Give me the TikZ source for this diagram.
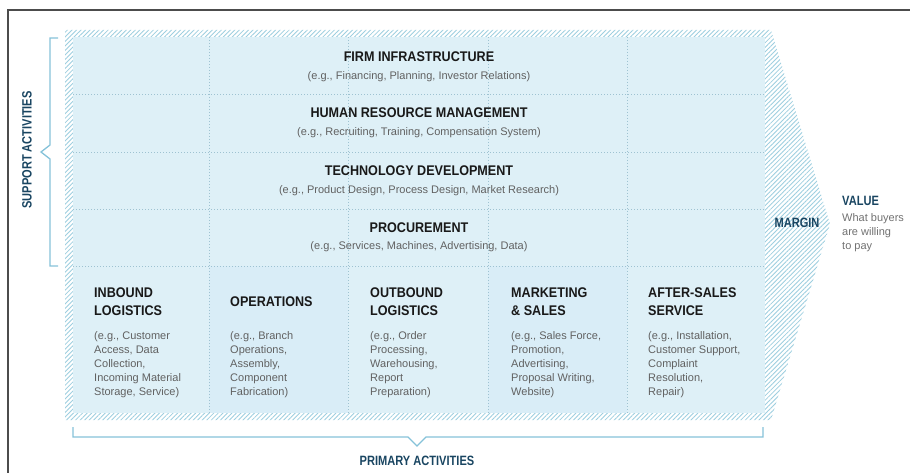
\documentclass[tikz,border=0pt]{standalone}
\usepackage{fontspec}
\setmainfont{Liberation Sans}
\newfontfamily\headfont[FakeStretch=0.9]{Liberation Sans}
\newfontfamily\tealfont[FakeStretch=0.82]{Liberation Sans}
\usetikzlibrary{patterns.meta,positioning}

\tikzset{
  rowhead/.style={font=\headfont\bfseries\fontsize{14}{18}\selectfont, text=headblack, inner sep=0pt},
  rownote/.style={font=\fontsize{11}{14}\selectfont, text=notegray, inner sep=0pt},
  colhead/.style={rowhead, align=left, anchor=north west},
  colnote/.style={rownote, align=left, anchor=north west},
  tealhead/.style={font=\tealfont\bfseries\fontsize{13.5}{16}\selectfont, text=darkteal, inner sep=0pt},
  gridline/.style={color=dotblue, line width=0.8pt, dash pattern=on 0.9pt off 2.1pt},
  bracket/.style={color=braceblue, line width=1.3pt},
}

\begin{document}
\begin{tikzpicture}[x=1pt,y=-1pt]
  \definecolor{headblack}{rgb}{0.1,0.1,0.1}
  \definecolor{notegray}{rgb}{0.38,0.38,0.38}
  \definecolor{darkteal}{rgb}{0.1,0.27,0.38}
  \definecolor{hatchblue}{rgb}{0.62,0.81,0.88}
  \definecolor{paleblue}{rgb}{0.87,0.94,0.97}
  \definecolor{paleblue2}{rgb}{0.85,0.93,0.97}
  \definecolor{dotblue}{rgb}{0.62,0.76,0.82}
  \definecolor{braceblue}{rgb}{0.52,0.76,0.85}
  \definecolor{framegray}{rgb}{0.3,0.3,0.3}

\useasboundingbox (0,0) rectangle (910,473);

%%%%%%%%%%%%%%%% frame
\draw[framegray, line width=1.3pt] (8,10) rectangle (930,490);

%%%%%%%%%%%%%%%% chevron with hatched border
\fill[white] (65,30) -- (771,30) -- (830,224) -- (771,420) -- (65,420) -- cycle;
\fill[pattern={Lines[angle=45,distance=3.2pt,line width=0.85pt]}, pattern color=hatchblue]
      (65,30) -- (771,30) -- (830,224) -- (771,420) -- (65,420) -- cycle;
\fill[paleblue] (73,37) rectangle (765,413);

  %% primary columns
  \fill[paleblue2] (209,266) rectangle (348,413);
  \fill[paleblue2] (488,266) rectangle (627,413);

  %% splits
  \draw[gridline] (73,94) -- (765,94);
  \draw[gridline] (73,152) -- (765,152);
  \draw[gridline] (73,209) -- (765,209);
  \draw[gridline] (73,266) -- (765,266);
  \draw[gridline] (209,37) -- (209,413);
  \draw[gridline] (348,37) -- (348,413);
  \draw[gridline] (488,37) -- (488,413);
  \draw[gridline] (627,37) -- (627,413);

%%%%%%%%%%%%%%%% support activities
\node[rowhead] (firm) at (419,57) {FIRM INFRASTRUCTURE};
\node[rownote] (firmnote) at (419,77) {(e.g., Financing, Planning, Investor Relations)};

\node[rowhead] (hrm) at (419,113) {HUMAN RESOURCE MANAGEMENT};
\node[rownote] (hrmnote) at (419,133) {(e.g., Recruiting, Training, Compensation System)};

\node[rowhead] (tech) at (419,171) {TECHNOLOGY DEVELOPMENT};
\node[rownote] (technote) at (419,191) {(e.g., Product Design, Process Design, Market Research)};

\node[rowhead] (proc) at (419,228) {PROCUREMENT};
\node[rownote] (procnote) at (419,247) {(e.g., Services, Machines, Advertising, Data)};

%%%%%%%%%%%%%%%% primary activities
\node[colhead] (inbound) at (94,288) {INBOUND\\LOGISTICS};
\node[colnote] (inboundnote) at (94,331) {(e.g., Customer\\Access, Data\\Collection,\\Incoming Material\\Storage, Service)};

\node[colhead] (operations) at (230,297) {OPERATIONS};
\node[colnote] (operationsnote) at (230,331) {(e.g., Branch\\Operations,\\Assembly,\\Component\\Fabrication)};

\node[colhead] (outbound) at (370,288) {OUTBOUND\\LOGISTICS};
\node[colnote] (outboundnote) at (370,331) {(e.g., Order\\Processing,\\Warehousing,\\Report\\Preparation)};

\node[colhead] (marketing) at (511,288) {MARKETING\\\& SALES};
\node[colnote] (marketingnote) at (511,331) {(e.g., Sales Force,\\Promotion,\\Advertising,\\Proposal Writing,\\Website)};

\node[colhead] (service) at (648,288) {AFTER-SALES\\SERVICE};
\node[colnote] (servicenote) at (648,331) {(e.g., Installation,\\Customer Support,\\Complaint\\Resolution,\\Repair)};

%%%%%%%%%%%%%%%% margin and value
\node[tealhead] (margin) at (797,223) {MARGIN};
\node[tealhead, anchor=west] (value) at (842,201) {VALUE};
\node[rownote, align=left, anchor=north west, text=notegray!90] (valuenote) at (842,213) {What buyers\\are willing\\to pay};

%%%%%%%%%%%%%%%% braces
\draw[bracket] (58,38) -- (50,38) -- (50,145) -- (41,152) -- (50,159) -- (50,266) -- (58,266);
\node[tealhead, rotate=90] (support) at (27,150) {SUPPORT ACTIVITIES};

\draw[bracket] (73,427) -- (73,437) -- (408,437) -- (417,446) -- (426,437) -- (763,437) -- (763,427);
\node[tealhead] (primary) at (417,461) {PRIMARY ACTIVITIES};

\end{tikzpicture}
\end{document}
